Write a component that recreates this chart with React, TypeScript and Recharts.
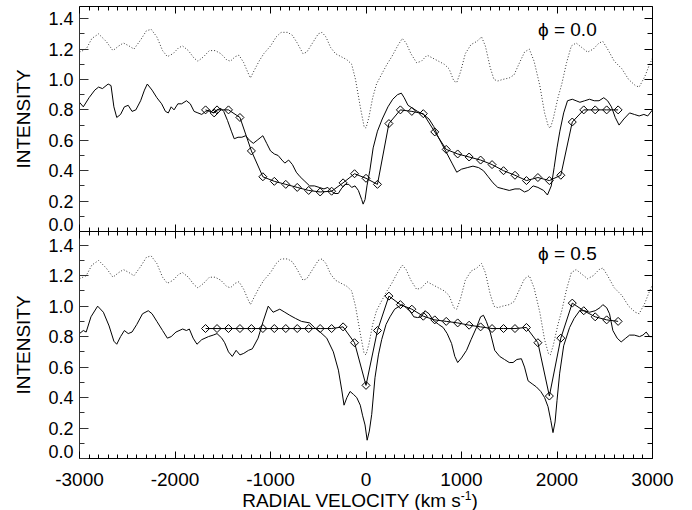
import React from 'react';
import { LineChart, Line, XAxis, YAxis } from 'recharts';

const FONT = '"Liberation Sans", Arial, Helvetica, sans-serif';

// axis ticks
const xMajorTicks = [-3000, -2000, -1000, 0, 1000, 2000, 3000];
const yMajorTicks = [0, 0.2, 0.4, 0.6, 0.8, 1.0, 1.2, 1.4];
const yTickLabels = ['0.0', '0.2', '0.4', '0.6', '0.8', '1.0', '1.2', '1.4'];
const phaseLabels = ['\u03D5 = 0.0', '\u03D5 = 0.5'];

// dotted reference profile (same in both panels)
const dottedVel = [
  -3000, -2930, -2870, -2800, -2720, -2650, -2590, -2540, -2480, -2430, -2360, -2300, -2250, -2190,
  -2130, -2080, -2020, -1960, -1920, -1860, -1800, -1760, -1700, -1640, -1580, -1520, -1460, -1420,
  -1370, -1330, -1280, -1240, -1210, -1170, -1120, -1070, -1000, -940, -890, -820, -770, -720, -660,
  -620, -560, -500, -460, -420, -370, -320, -260, -200, -150, -110, -60, -20, 0, 30, 70, 110, 160,
  220, 270, 330, 380, 420, 470, 530, 580, 640, 700, 760, 820, 870, 920, 950, 990, 1040, 1100, 1160,
  1210, 1250, 1300, 1340, 1380, 1430, 1500, 1550, 1600, 1660, 1710, 1760, 1820, 1870, 1910, 1930,
  1960, 2010, 2050, 2100, 2150, 2200, 2260, 2320, 2380, 2440, 2480, 2530, 2600, 2680, 2750, 2820,
  2860, 2920, 2970, 3000,
];
const dottedInt = [
  1.18, 1.2, 1.27, 1.3, 1.25, 1.19, 1.22, 1.24, 1.22, 1.2, 1.26, 1.32, 1.33, 1.28,
  1.19, 1.15, 1.17, 1.21, 1.22, 1.19, 1.14, 1.12, 1.15, 1.19, 1.19, 1.17, 1.13, 1.12,
  1.15, 1.16, 1.11, 1.05, 1.01, 1.06, 1.12, 1.17, 1.22, 1.28, 1.31, 1.31, 1.29, 1.24, 1.17,
  1.18, 1.24, 1.3, 1.31, 1.28, 1.21, 1.17, 1.15, 1.13, 1.1, 1.0, 0.82, 0.69, 0.68, 0.75, 0.88, 0.97, 1.03,
  1.1, 1.15, 1.22, 1.27, 1.24, 1.17, 1.11, 1.12, 1.16, 1.14, 1.12, 1.1, 1.07, 0.99, 0.98, 1.05, 1.17, 1.23, 1.25,
  1.28, 1.22, 1.08, 1.0, 0.99, 1.0, 1.01, 1.03, 1.1, 1.18, 1.2, 1.12, 0.96, 0.78, 0.69, 0.68,
  0.74, 0.88, 0.97, 1.11, 1.22, 1.24, 1.21, 1.18, 1.2, 1.24, 1.25, 1.2, 1.12, 1.07, 1.0, 0.96,
  0.95, 1.02, 1.1, 1.14,
];

// phase 0.0 observed profile
const obsTopVel = [
  -3000, -2960, -2900, -2840, -2800, -2760, -2700, -2670, -2640, -2610, -2570, -2530, -2490, -2450,
  -2410, -2360, -2320, -2290, -2240, -2190, -2140, -2100, -2070, -2040, -2010, -1970, -1930, -1880,
  -1840, -1800, -1760, -1720, -1680, -1640, -1600, -1560, -1520, -1490, -1450, -1410, -1380, -1340,
  -1300, -1260, -1220, -1180, -1140, -1100, -1080, -1040, -1000, -960, -920, -880, -850, -810, -770,
  -730, -690, -640, -590, -540, -490, -440, -400, -370, -330, -290, -260, -220, -180, -150, -115, -80,
  -45, -30, -10, 10, 40, 75, 120, 170, 230, 280, 330, 370, 400, 440, 490, 540, 600, 660, 710, 750, 800,
  850, 900, 950, 1000, 1060, 1120, 1180, 1230, 1280, 1330, 1380, 1440, 1500, 1560, 1610, 1660, 1700,
  1750, 1800, 1860, 1900, 1940, 1970, 2000, 2030, 2070, 2110, 2160, 2200, 2240, 2290, 2340, 2390, 2440,
  2490, 2530, 2570, 2610, 2650, 2700, 2760, 2810, 2860, 2910, 2950, 3000,
];
const obsTopInt = [
  0.85, 0.82, 0.88, 0.93, 0.95, 0.94, 0.97, 0.96, 0.82, 0.75, 0.77, 0.82, 0.83, 0.79,
  0.8, 0.86, 0.93, 0.97, 0.93, 0.88, 0.84, 0.79, 0.78, 0.82, 0.8, 0.84, 0.84, 0.86,
  0.84, 0.79, 0.78, 0.77, 0.79, 0.8, 0.78, 0.8, 0.81, 0.79, 0.73, 0.66, 0.61, 0.62,
  0.62, 0.63, 0.6, 0.58, 0.6, 0.62, 0.63, 0.58, 0.53, 0.51, 0.5, 0.47, 0.45, 0.47, 0.44,
  0.39, 0.36, 0.33, 0.3, 0.3, 0.29, 0.28, 0.29, 0.27, 0.25, 0.25, 0.28, 0.31, 0.31, 0.29, 0.3, 0.27,
  0.21, 0.18, 0.21, 0.3, 0.4, 0.55, 0.66, 0.74, 0.82, 0.87, 0.9, 0.91, 0.88, 0.83, 0.81, 0.79, 0.77, 0.74, 0.69, 0.63, 0.57,
  0.51, 0.45, 0.39, 0.41, 0.42, 0.43, 0.42, 0.4, 0.36, 0.32, 0.29, 0.28, 0.27, 0.28, 0.28, 0.26, 0.27,
  0.3, 0.29, 0.27, 0.24, 0.3, 0.42, 0.55, 0.66, 0.78, 0.86, 0.87, 0.86, 0.85, 0.86, 0.87, 0.86, 0.86,
  0.88, 0.86, 0.82, 0.75, 0.7, 0.74, 0.78, 0.77, 0.76, 0.77, 0.76, 0.8,
];

// phase 0.0 model profile (diamonds)
const modelTopVel = [
  -1680, -1590, -1560, -1440, -1320, -1200, -1080, -960, -840, -720, -600, -480, -360, -240, -120, 0,
  120, 240, 360, 480, 600, 720, 840, 960, 1080, 1200, 1320, 1440, 1560, 1680, 1800, 1920, 2040, 2160,
  2280, 2400, 2520, 2640,
];
const modelTopInt = [
  0.8, 0.78, 0.8, 0.8, 0.75, 0.53, 0.36, 0.33, 0.31, 0.29, 0.27, 0.26, 0.265, 0.32, 0.38, 0.35,
  0.31, 0.71, 0.8, 0.79, 0.775, 0.655, 0.54, 0.51, 0.49, 0.47, 0.44, 0.4, 0.37, 0.335, 0.355, 0.335, 0.37, 0.72,
  0.8, 0.8, 0.8, 0.8,
];

// phase 0.5 observed profile
const obsBotVel = [
  -3000, -2960, -2930, -2880, -2810, -2750, -2690, -2640, -2610, -2570, -2530, -2490, -2450, -2400,
  -2340, -2280, -2240, -2190, -2130, -2080, -2040, -1990, -1920, -1880, -1850, -1810, -1770, -1720,
  -1650, -1600, -1560, -1510, -1480, -1440, -1400, -1360, -1320, -1280, -1230, -1190, -1130, -1077,
  -1024, -973, -903, -850, -798, -740, -676, -589, -540, -480, -411, -342, -289, -254, -230, -200,
  -167, -130, -97, -60, -35, -10, 12, 35, 60, 94, 130, 164, 210, 251, 300, 350, 380, 420, 460, 500,
  540, 580, 617, 660, 700, 760, 808, 850, 896, 930, 960, 1000, 1053, 1100, 1157, 1200, 1230, 1260,
  1300, 1348, 1400, 1450, 1500, 1540, 1580, 1627, 1660, 1697, 1740, 1784, 1830, 1870, 1906, 1935,
  1958, 1980, 2000, 2028, 2070, 2132, 2180, 2237, 2290, 2341, 2400, 2450, 2480, 2520, 2550, 2585,
  2630, 2672, 2720, 2760, 2810, 2864, 2900, 2934, 2970, 3000,
];
const obsBotInt = [
  0.82, 0.84, 0.83, 0.93, 1.0, 0.96, 0.87, 0.77, 0.75, 0.8, 0.84, 0.82, 0.83, 0.88,
  0.95, 0.97, 0.95, 0.9, 0.84, 0.79, 0.8, 0.83, 0.85, 0.84, 0.85, 0.79, 0.75, 0.78,
  0.8, 0.81, 0.82, 0.79, 0.76, 0.7, 0.67, 0.71, 0.68, 0.69, 0.71, 0.72, 0.79, 0.9,
  1.0, 0.96, 0.98, 0.96, 0.94, 0.92, 0.9, 0.89, 0.86, 0.83, 0.79, 0.7, 0.58, 0.45, 0.35, 0.4,
  0.44, 0.42, 0.4, 0.35, 0.28, 0.22, 0.12, 0.18, 0.29, 0.53, 0.68, 0.78, 0.88, 0.93, 0.98, 1.0, 1.01, 0.99, 0.97, 0.93,
  0.925, 0.93, 0.97, 0.95, 0.91, 0.88, 0.86, 0.82, 0.755, 0.67, 0.63, 0.66, 0.71, 0.78, 0.86, 0.93, 0.94, 0.9,
  0.83, 0.71, 0.67, 0.65, 0.63, 0.63, 0.65, 0.655, 0.6, 0.51, 0.49, 0.47, 0.44, 0.4, 0.34, 0.25,
  0.17, 0.24, 0.38, 0.56, 0.74, 0.86, 0.92, 0.97, 0.97, 0.96, 0.97, 0.99, 1.01, 0.99, 0.95, 0.84,
  0.79, 0.765, 0.79, 0.81, 0.81, 0.8, 0.81, 0.83, 0.8, 0.8,
];

// phase 0.5 model profile (diamonds)
const modelBotVel = [
  -1680, -1560, -1440, -1320, -1200, -1080, -960, -840, -720, -600, -480, -360, -240, -120, 0,
  120, 240, 360, 480, 600, 720, 840, 960, 1080, 1200, 1320, 1440, 1560, 1680, 1800, 1920, 2040, 2160,
  2280, 2400, 2520, 2640,
];
const modelBotInt = [
  0.853, 0.853, 0.853, 0.853, 0.853, 0.853, 0.853, 0.853, 0.853, 0.853, 0.853, 0.853, 0.864, 0.76, 0.48,
  0.84, 1.066, 1.01, 0.98, 0.934, 0.91, 0.9, 0.89, 0.875, 0.864, 0.853, 0.853, 0.853, 0.86, 0.76, 0.41, 0.79, 1.02,
  0.97, 0.93, 0.91, 0.9,
];

const toPoints = (vel: number[], int: number[]) => vel.map((v, k) => ({ v, i: int[k] }));

const dottedData = toPoints(dottedVel, dottedInt);
const panels = [
  { obs: toPoints(obsTopVel, obsTopInt), model: toPoints(modelTopVel, modelTopInt), phase: phaseLabels[0], yMax: 1.48 },
  { obs: toPoints(obsBotVel, obsBotInt), model: toPoints(modelBotVel, modelBotInt), phase: phaseLabels[1], yMax: 1.49 },
];

const xTicks: number[] = [];
for (let v = -3000; v <= 3000; v += 100) xTicks.push(v);
const yTicks: number[] = [];
for (let k = 0; k <= 14; k++) yTicks.push(k / 10);

const X_DOMAIN = [-3000, 3000];

const isMajorX = (v: number) => xMajorTicks.includes(v);
const isMajorY = (v: number) => Math.round(v * 10) % 2 === 0;
// snap 1px lines onto pixel centres so the ticks stay crisp
const crisp = (c: number) => Math.round(c - 0.5) + 0.5;

const BottomTick = (props: any) => {
  const { x, y, payload, showLabel } = props;
  const major = isMajorX(payload.value);
  const cx = crisp(x);
  return (
    <g>
      <line x1={cx} x2={cx} y1={y} y2={y - (major ? 7 : 4)} stroke="#000" strokeWidth={1} />
      {showLabel && major ? (
        <text x={x} y={y + 27} textAnchor="middle" fontSize={19} fontFamily={FONT} fill="#000">
          {payload.value}
        </text>
      ) : null}
    </g>
  );
};

const TopTick = (props: any) => {
  const { x, y, payload } = props;
  const major = isMajorX(payload.value);
  const cx = crisp(x);
  return <line x1={cx} x2={cx} y1={y} y2={y + (major ? 7 : 4)} stroke="#000" strokeWidth={1} />;
};

const LeftTick = (props: any) => {
  const { x, y, payload } = props;
  const major = isMajorY(payload.value);
  const cy = crisp(y);
  const idx = yMajorTicks.findIndex((t) => Math.abs(t - payload.value) < 1e-6);
  return (
    <g>
      <line x1={x} x2={x + (major ? 9 : 5)} y1={cy} y2={cy} stroke="#333" strokeWidth={1} />
      {idx >= 0 ? (
        <text x={x - 6} y={idx === 0 ? y - 1 : y + 6.5} textAnchor="end" fontSize={18} fontFamily={FONT} fill="#000">
          {yTickLabels[idx]}
        </text>
      ) : null}
    </g>
  );
};

const RightTick = (props: any) => {
  const { x, y, payload } = props;
  const major = isMajorY(payload.value);
  const cy = crisp(y);
  return <line x1={x} x2={x - (major ? 8 : 5)} y1={cy} y2={cy} stroke="#000" strokeWidth={1} />;
};

const Diamond = (props: any) => {
  const { cx, cy, index } = props;
  if (cx == null || cy == null) return <g key={`d-${index}`} />;
  const r = 4;
  return (
    <path
      key={`d-${index}`}
      d={`M${cx},${cy - r}L${cx + r},${cy}L${cx},${cy + r}L${cx - r},${cy}Z`}
      fill="none"
      stroke="#000"
      strokeWidth={1}
    />
  );
};

const YTitle = (props: any) => {
  const vb = props.viewBox;
  const cx = vb.x + 23;
  const cy = vb.y + vb.height / 2;
  return (
    <text
      x={cx}
      y={cy}
      transform={`rotate(-90 ${cx} ${cy})`}
      textAnchor="middle"
      dominantBaseline="central"
      fontSize={19}
      fontFamily={FONT}
      fill="#000"
    >
      INTENSITY
    </text>
  );
};

const XTitle = (props: any) => {
  const vb = props.viewBox;
  return (
    <text x={vb.x + vb.width / 2 - 6} y={vb.y + 48} textAnchor="middle" fontSize={19} fontFamily={FONT} fill="#000">
      RADIAL VELOCITY (km s
      <tspan dy={-7} fontSize={12}>-1</tspan>
      <tspan dy={7}>)</tspan>
    </text>
  );
};

function Panel({ index }: { index: number }) {
  const p = panels[index];
  const isBottom = index === 1;
  const height = isBottom ? 510 : 240;
  const margin = isBottom
    ? { top: 230.5, right: 38.5, bottom: 0, left: 0 }
    : { top: 5.5, right: 38.5, bottom: 7.5, left: 0 };
  const yDomain = [0, p.yMax];
  return (
    <div style={{ position: 'absolute', left: 0, top: 0 }}>
      <LineChart width={692} height={height} margin={margin}>
        <XAxis
          xAxisId="b"
          dataKey="v"
          type="number"
          domain={X_DOMAIN}
          allowDataOverflow
          ticks={xTicks}
          interval={0}
          tickSize={0}
          tickMargin={0}
          height={isBottom ? 51.5 : 1}
          axisLine={{ stroke: '#000' }}
          tickLine={false}
          tick={(t: any) => <BottomTick {...t} showLabel={isBottom} />}
          label={isBottom ? { content: (lp: any) => <XTitle {...lp} /> } : undefined}
        />
        <XAxis
          xAxisId="t"
          orientation="top"
          dataKey="v"
          type="number"
          domain={X_DOMAIN}
          allowDataOverflow
          ticks={xTicks}
          interval={0}
          tickSize={0}
          tickMargin={0}
          height={1}
          axisLine={{ stroke: '#000' }}
          tickLine={false}
          tick={(t: any) => <TopTick {...t} />}
        />
        <YAxis
          yAxisId="l"
          type="number"
          domain={yDomain}
          allowDataOverflow
          ticks={yTicks}
          interval={0}
          tickSize={0}
          tickMargin={0}
          width={79.5}
          axisLine={{ stroke: '#333' }}
          tickLine={false}
          tick={(t: any) => <LeftTick {...t} />}
          label={{ content: (lp: any) => <YTitle {...lp} /> }}
        />
        <YAxis
          yAxisId="r"
          orientation="right"
          type="number"
          domain={yDomain}
          allowDataOverflow
          ticks={yTicks}
          interval={0}
          tickSize={0}
          tickMargin={0}
          width={1}
          axisLine={{ stroke: '#000' }}
          tickLine={false}
          tick={(t: any) => <RightTick {...t} />}
        />
        <Line
          data={dottedData}
          xAxisId="b"
          yAxisId="l"
          dataKey="i"
          type="linear"
          stroke="#333"
          strokeWidth={1}
          strokeDasharray="1 2"
          dot={false}
          activeDot={false}
          isAnimationActive={false}
        />
        <Line
          data={p.obs}
          xAxisId="b"
          yAxisId="l"
          dataKey="i"
          type="linear"
          stroke="#000"
          strokeWidth={1}
          dot={false}
          activeDot={false}
          isAnimationActive={false}
        />
        <Line
          data={p.model}
          xAxisId="b"
          yAxisId="l"
          dataKey="i"
          type="linear"
          stroke="#000"
          strokeWidth={1}
          dot={(d: any) => <Diamond {...d} />}
          activeDot={false}
          isAnimationActive={false}
        />
        {/* keeps the top and right frame axes bound to a series */}
        <Line
          data={dottedData}
          xAxisId="t"
          yAxisId="r"
          dataKey="i"
          stroke="none"
          dot={false}
          activeDot={false}
          isAnimationActive={false}
        />
      </LineChart>
      <div
        style={{
          position: 'absolute',
          left: 538,
          top: isBottom ? 244 : 20,
          fontFamily: FONT,
          fontSize: 19,
          lineHeight: '19px',
          whiteSpace: 'nowrap',
          color: '#000',
        }}
      >
        {p.phase}
      </div>
    </div>
  );
}

export default function App() {
  return (
    <div style={{ position: 'absolute', left: 0, top: 0, width: 692, height: 510, background: '#fff' }}>
      <Panel index={0} />
      <Panel index={1} />
    </div>
  );
}
